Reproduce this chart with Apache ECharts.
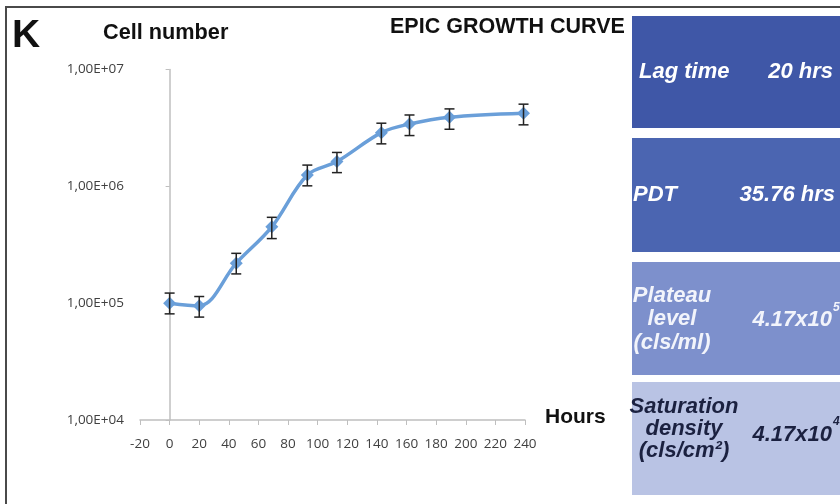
<!DOCTYPE html>
<html>
<head>
<meta charset="utf-8">
<script src="https://cdn.jsdelivr.net/npm/echarts@6/dist/echarts.min.js"></script>
<style>
html,body{margin:0;padding:0;background:#fff;}
#chart{width:840px;height:504px;}
</style>
</head>
<body>
<div id="chart"></div>
<script>
// Data
const hours = [0, 20, 45, 69, 93, 113, 143, 162, 189, 239];
const cells = [1.0e5, 9.5e4, 2.2e5, 4.5e5, 1.25e6, 1.63e6, 2.88e6, 3.42e6, 3.91e6, 4.23e6];
const errLow = [8.1e4, 7.6e4, 1.78e5, 3.57e5, 1.01e6, 1.31e6, 2.31e6, 2.72e6, 3.08e6, 3.36e6];
const errHigh = [1.22e5, 1.14e5, 2.67e5, 5.43e5, 1.52e6, 1.95e6, 3.47e6, 4.08e6, 4.6e6, 5.05e6];
const xMin = -20, xMax = 240, xStep = 20;
const yMin = 1e4, yMax = 1e7;
const boxes = [
  {label: ['Lag time'], value: '20 hrs', sup: ''},
  {label: ['PDT'], value: '35.76 hrs', sup: ''},
  {label: ['Plateau', 'level', '(cls/ml)'], value: '4.17x10', sup: '5'},
  {label: ['Saturation', 'density', '(cls/cm²)'], value: '4.17x10', sup: '4'}
];

const chart = echarts.init(document.getElementById('chart'), null, {renderer: 'canvas'});

const lineData = hours.map((h, i) => [h, cells[i]]);
const errData = hours.map((h, i) => [h, errLow[i], errHigh[i]]);

const tickFont = {fontFamily: 'Open Sans', fontSize: 13.5, color: '#404040'};
const boldFont = 'Liberation Sans';

const boxStyles = [
  {y: 16, h: 112, fill: '#3f57a7', text: '#ffffff'},
  {y: 138, h: 114, fill: '#4b65b1', text: '#ffffff'},
  {y: 262, h: 113, fill: '#7d90cc', text: '#f2f4fb'},
  {y: 382, h: 113, fill: '#b9c3e4', text: '#1b2140'}
];
const boxTextPos = [
  {labelX: 639, labelAlign: 'left', labelY: [72], valRight: 833, valY: 72},
  {labelX: 633, labelAlign: 'left', labelY: [195], valRight: 835, valY: 195},
  {labelX: 672, labelAlign: 'center', labelY: [296, 319, 343], valRight: 832, valY: 320, supY: 308},
  {labelX: 684, labelAlign: 'center', labelY: [407, 429, 451], valRight: 832, valY: 435, supY: 422}
];

const graphics = [];
// frame
graphics.push({type: 'line', shape: {x1: 5, y1: 7, x2: 840, y2: 7}, style: {stroke: '#4a4a4a', lineWidth: 2}});
graphics.push({type: 'line', shape: {x1: 6, y1: 7, x2: 6, y2: 504}, style: {stroke: '#4a4a4a', lineWidth: 2}});
// texts
graphics.push({type: 'text', x: 12, y: 36, style: {text: 'K', font: 'bold 39px ' + boldFont, fill: '#111', textVerticalAlign: 'middle'}});
graphics.push({type: 'text', x: 103, y: 33, style: {text: 'Cell number', font: 'bold 21.7px ' + boldFont, fill: '#111', textVerticalAlign: 'middle'}});
graphics.push({type: 'text', x: 390, y: 27, style: {text: 'EPIC GROWTH CURVE', font: 'bold 21.5px ' + boldFont, fill: '#111', textVerticalAlign: 'middle'}});
graphics.push({type: 'text', x: 545, y: 417, style: {text: 'Hours', font: 'bold 21px ' + boldFont, fill: '#111', textVerticalAlign: 'middle'}});
// boxes
boxes.forEach((b, i) => {
  const s = boxStyles[i], p = boxTextPos[i];
  graphics.push({type: 'rect', shape: {x: 632, y: s.y, width: 210, height: s.h}, style: {fill: s.fill}, z: 1});
  b.label.forEach((t, k) => {
    graphics.push({type: 'text', x: p.labelX, y: p.labelY[k], z: 2,
      style: {text: t, font: 'italic bold 22px ' + boldFont, fill: s.text, textAlign: p.labelAlign, textVerticalAlign: 'middle'}});
  });
  graphics.push({type: 'text', x: p.valRight, y: p.valY, z: 2,
    style: {text: b.value, font: 'italic bold 22px ' + boldFont, fill: s.text, textAlign: 'right', textVerticalAlign: 'middle'}});
  if (b.sup) {
    graphics.push({type: 'text', x: p.valRight + 1, y: p.supY, z: 2,
      style: {text: b.sup, font: 'italic bold 12px ' + boldFont, fill: s.text, textAlign: 'left', textVerticalAlign: 'middle'}});
  }
});

const option = {
  backgroundColor: '#ffffff',
  animation: false,
  grid: {left: 140, right: 315, top: 69.5, bottom: 84, containLabel: false},
  xAxis: {
    type: 'value', min: xMin, max: xMax, interval: xStep,
    axisLine: {show: true, onZero: false, lineStyle: {color: '#bfbfbf', width: 1.5}},
    axisTick: {show: true, length: 5, lineStyle: {color: '#bfbfbf', width: 1}},
    axisLabel: Object.assign({margin: 17}, tickFont),
    splitLine: {show: false}
  },
  yAxis: {
    type: 'log', logBase: 10, min: yMin, max: yMax,
    axisLine: {show: true, onZero: true, lineStyle: {color: '#bfbfbf', width: 1.5}},
    axisTick: {show: true, length: 4, lineStyle: {color: '#bfbfbf', width: 1}},
    axisLabel: Object.assign({margin: 16, formatter: v => '1,00E+' + String(Math.round(Math.log10(v))).padStart(2, '0')}, tickFont),
    splitLine: {show: false},
    minorTick: {show: false}
  },
  series: [
    {
      type: 'line', data: lineData, smooth: 0.35,
      symbol: 'diamond', symbolSize: 13,
      lineStyle: {color: '#6a9fd9', width: 3.5},
      itemStyle: {color: '#6a9fd9'},
      z: 3
    },
    {
      type: 'custom', data: errData, z: 4,
      encode: {x: 0, y: [1, 2]},
      renderItem: function (params, api) {
        const x = api.value(0);
        const top = api.coord([x, api.value(2)]);
        const bot = api.coord([x, api.value(1)]);
        const hw = 5;
        const st = {stroke: '#222', lineWidth: 1.5};
        return {type: 'group', children: [
          {type: 'line', shape: {x1: top[0], y1: top[1], x2: bot[0], y2: bot[1]}, style: st},
          {type: 'line', shape: {x1: top[0] - hw, y1: top[1], x2: top[0] + hw, y2: top[1]}, style: st},
          {type: 'line', shape: {x1: bot[0] - hw, y1: bot[1], x2: bot[0] + hw, y2: bot[1]}, style: st}
        ]};
      }
    }
  ],
  graphic: graphics
};
chart.setOption(option);
</script>
</body>
</html>
